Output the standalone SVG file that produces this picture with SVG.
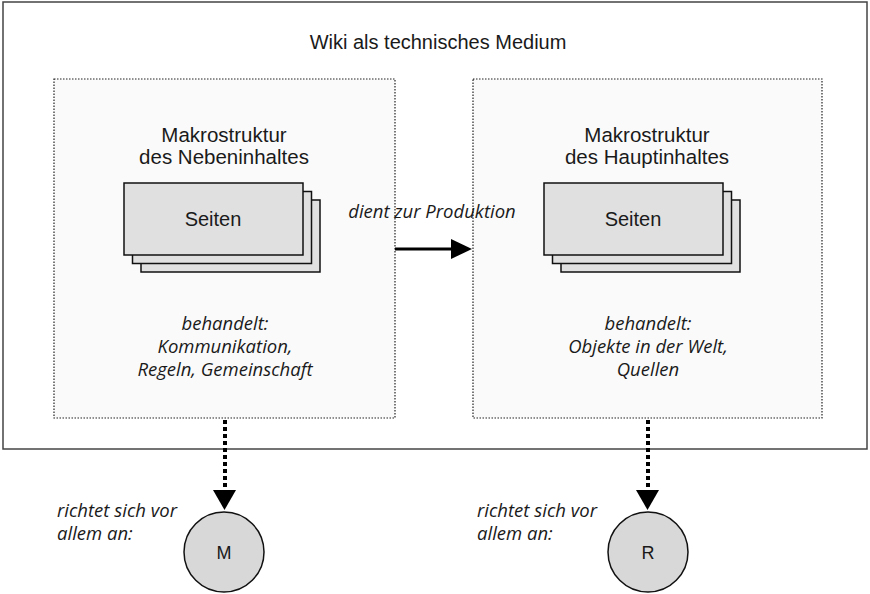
<svg xmlns="http://www.w3.org/2000/svg" width="870" height="594" viewBox="0 0 870 594">
<style>
.frame{fill:#ffffff;stroke:#444;stroke-width:1.5}
.box{fill:#fafafa;stroke:#222;stroke-width:1.2;stroke-dasharray:1.5 1.5}
.page{fill:#e0e0e0;stroke:#111;stroke-width:1.5}
.t{font-family:"Liberation Sans",Arial,sans-serif;fill:#1a1a1a;text-anchor:middle}
.i{font-family:"Open Sans","DejaVu Sans",sans-serif;font-style:italic;fill:#1a1a1a;text-anchor:middle;font-size:18.5px}
.circ{fill:#d8d8d8;stroke:#111;stroke-width:1.5}
.dot{stroke:#000;stroke-width:4;stroke-dasharray:4 3;fill:none}
</style>
<g id="frame">
<rect class="frame" x="3" y="2" width="864" height="447"/>
<text class="t" x="438" y="49" font-size="20">Wiki als technisches Medium</text>
</g>
<g id="neben">
<rect class="box" x="54" y="79" width="341" height="339"/>
<text class="t" x="224" y="142" font-size="20.5">Makrostruktur</text>
<text class="t" x="224" y="164" font-size="20.5">des Nebeninhaltes</text>
<rect class="page" x="141" y="200" width="179" height="72"/>
<rect class="page" x="132.5" y="191.5" width="179" height="72"/>
<rect class="page" x="124" y="183" width="179" height="72"/>
<text class="t" x="213" y="226" font-size="20">Seiten</text>
<text class="i" x="225" y="330">behandelt:</text>
<text class="i" x="225" y="353">Kommunikation,</text>
<text class="i" x="225" y="376">Regeln, Gemeinschaft</text>
</g>
<g id="haupt">
<rect class="box" x="473" y="79" width="349" height="339"/>
<text class="t" x="647" y="142" font-size="20.5">Makrostruktur</text>
<text class="t" x="647" y="164" font-size="20.5">des Hauptinhaltes</text>
<rect class="page" x="561" y="200" width="179" height="72"/>
<rect class="page" x="552.5" y="191.5" width="179" height="72"/>
<rect class="page" x="544" y="183" width="179" height="72"/>
<text class="t" x="633" y="226" font-size="20">Seiten</text>
<text class="i" x="648" y="330">behandelt:</text>
<text class="i" x="648" y="353">Objekte in der Welt,</text>
<text class="i" x="648" y="376">Quellen</text>
</g>
<g id="M">
<circle class="circ" cx="224" cy="552" r="40"/>
<text class="t" x="224" y="559" font-size="18">M</text>
<text class="i" x="57" y="517" style="text-anchor:start">richtet sich vor</text>
<text class="i" x="57" y="540" style="text-anchor:start">allem an:</text>
</g>
<g id="R">
<circle class="circ" cx="648" cy="552" r="40"/>
<text class="t" x="648" y="559" font-size="18">R</text>
<text class="i" x="477" y="517" style="text-anchor:start">richtet sich vor</text>
<text class="i" x="477" y="540" style="text-anchor:start">allem an:</text>
</g>
<g id="connectors">
<line x1="395" y1="249" x2="452" y2="249" stroke="#000" stroke-width="3"/>
<path d="M451,239 L472,249 L451,259 Z" fill="#000"/>
<text class="i" x="432" y="218">dient zur Produktion</text>
<line class="dot" x1="225" y1="420" x2="225" y2="491"/>
<path d="M213,490 L236,490 L224.5,510 Z" fill="#000"/>
<line class="dot" x1="648" y1="420" x2="648" y2="491"/>
<path d="M636,490 L659,490 L647.5,510 Z" fill="#000"/>
</g>
</svg>
